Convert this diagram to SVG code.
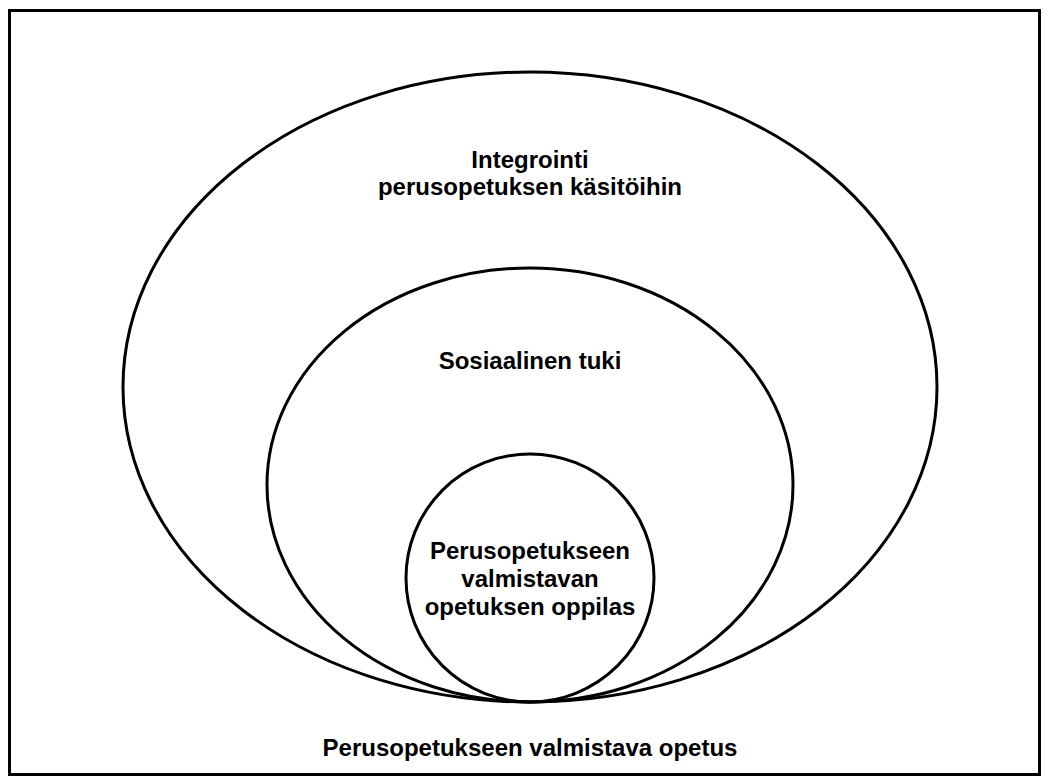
<svg xmlns="http://www.w3.org/2000/svg" width="1049" height="782" viewBox="0 0 1049 782">
  <style>
    .ring { fill: none; stroke: #000; stroke-width: 3; }
    .label { font-family: "Liberation Sans", Arial, sans-serif; font-weight: bold; font-size: 24px; fill: #000; text-anchor: middle; }
  </style>
  <rect x="0" y="0" width="1049" height="782" fill="#fff"/>
  <!-- frame -->
  <rect x="9.5" y="10.5" width="1030" height="764" fill="none" stroke="#000" stroke-width="3"/>

  <g id="outer">
    <ellipse class="ring" cx="530" cy="387" rx="407" ry="315"/>
    <text class="label" x="530" y="168">Integrointi</text>
    <text class="label" x="530" y="195">perusopetuksen käsitöihin</text>
  </g>

  <g id="middle">
    <ellipse class="ring" cx="530" cy="485" rx="263" ry="217"/>
    <text class="label" x="530" y="369">Sosiaalinen tuki</text>
  </g>

  <g id="inner">
    <circle class="ring" cx="530" cy="578" r="124"/>
    <text class="label" x="530" y="559">Perusopetukseen</text>
    <text class="label" x="530" y="587">valmistavan</text>
    <text class="label" x="530" y="615">opetuksen oppilas</text>
  </g>

  <g id="caption">
    <text class="label" x="530" y="756">Perusopetukseen valmistava opetus</text>
  </g>

  <g id="connectors"></g>
</svg>
